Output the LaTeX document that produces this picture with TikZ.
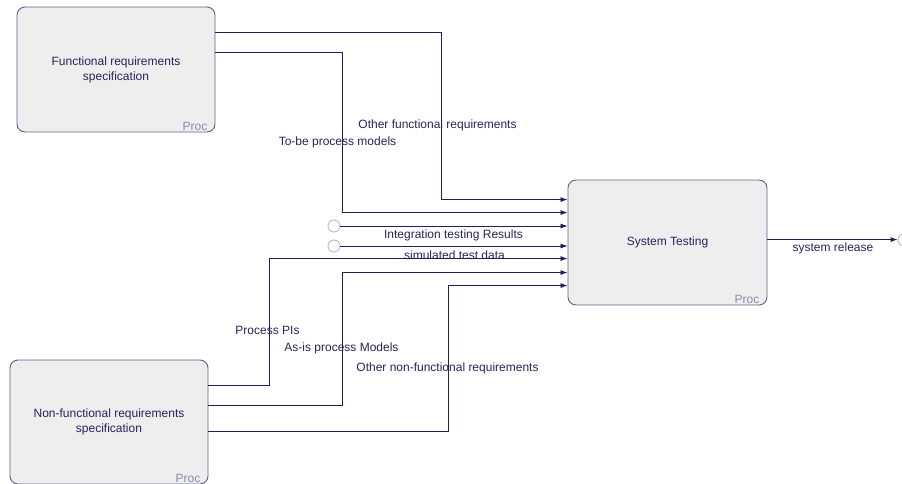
\documentclass[tikz,border=0pt]{standalone}
\usepackage{fontspec}
\setmainfont{Liberation Sans}
\usepackage{tikz}
\usetikzlibrary{positioning, arrows.meta}

\definecolor{procfill}{HTML}{EEEEEE}
\definecolor{procline}{HTML}{5E5E8E}
\definecolor{flowline}{HTML}{1E1E58}
\definecolor{labeltext}{HTML}{24245A}
\definecolor{proctag}{HTML}{8A8AAE}
\definecolor{tunnel}{HTML}{B4B4B4}

\begin{document}
\begin{tikzpicture}[
    x=1pt, y=-1pt,
    font=\fontsize{12}{15}\selectfont,
    procbox/.style={rectangle, draw=procline, fill=procfill, rounded corners=8pt, text=labeltext, align=center, minimum width=198pt, minimum height=125pt, line width=0.9pt},
    tag/.style={anchor=south east, text=proctag, inner sep=1pt},
    flow/.style={draw=flowline, line width=0.8pt, -{Latex[length=7pt, width=5pt]}},
    lbl/.style={text=labeltext, inner sep=0pt},
    stub/.style={circle, draw=tunnel, fill=white, minimum size=12pt, inner sep=0pt, line width=0.8pt}
]
    \useasboundingbox (0,0) rectangle (902,484);

    % Process boxes
    \node[procbox] (func) at (116,69.5) {Functional requirements\\specification};
    \node[tag] at ([xshift=-7pt, yshift=1pt]func.south east) {Proc};

    \node[procbox, minimum width=199pt] (test) at (667.5,242.5) {System Testing};
    \node[tag] at ([xshift=-7pt, yshift=1pt]test.south east) {Proc};

    \node[procbox, minimum height=124pt] (nonf) at (109,422) {Non-functional requirements\\specification};
    \node[tag] at ([xshift=-7pt, yshift=1pt]nonf.south east) {Proc};

    % Ports on the boxes
    \coordinate (f1) at ([yshift=-26pt]func.north east);
    \coordinate (f2) at ([yshift=-46pt]func.north east);
    \coordinate (n1) at ([yshift=-26pt]nonf.north east);
    \coordinate (n2) at ([yshift=-46pt]nonf.north east);
    \coordinate (n3) at ([yshift=-72pt]nonf.north east);
    \coordinate (t1) at ([yshift=-20pt]test.north west);
    \coordinate (t2) at ([yshift=-33pt]test.north west);
    \coordinate (t5) at ([yshift=-79pt]test.north west);
    \coordinate (t6) at ([yshift=-93pt]test.north west);
    \coordinate (t7) at ([yshift=-106pt]test.north west);
    \coordinate (tout) at ([yshift=-60pt]test.north east);

    % Open ends
    \node[stub] (itr) at (334,226) {};
    \node[stub] (sim) at (334,246) {};
    \node[stub] (rel) at (904,240) {};

    % Inputs from functional spec
    \draw[flow] (f1) -| (t1 -| 441,0) -- (t1);
    \draw[flow] (f2) -| (t2 -| 342,0) -- (t2);

    % Inputs from open ends
    \draw[flow] (itr.east) -- (itr.east -| test.west);
    \draw[flow] (sim.east) -- (sim.east -| test.west);

    % Inputs from non-functional spec
    \draw[flow] (n1) -| (t5 -| 269,0) -- (t5);
    \draw[flow] (n2) -| (t6 -| 342,0) -- (t6);
    \draw[flow] (n3) -| (t7 -| 448,0) -- (t7);

    % Output
    \draw[flow] (tout) -- (tout -| rel.west);

    % Labels
    \node[lbl] at (437.5,125) {Other functional requirements};
    \node[lbl] at (337.5,142) {To-be process models};
    \node[lbl] at (453.5,235) {Integration testing Results};
    \node[lbl] at (454.5,255) {simulated test data};
    \node[lbl] at (833,248) {system release};
    \node[lbl] at (267.5,330) {Process PIs};
    \node[lbl] at (341.5,348) {As-is process Models};
    \node[lbl] at (447.5,368) {Other non-functional requirements};

\end{tikzpicture}
\end{document}
